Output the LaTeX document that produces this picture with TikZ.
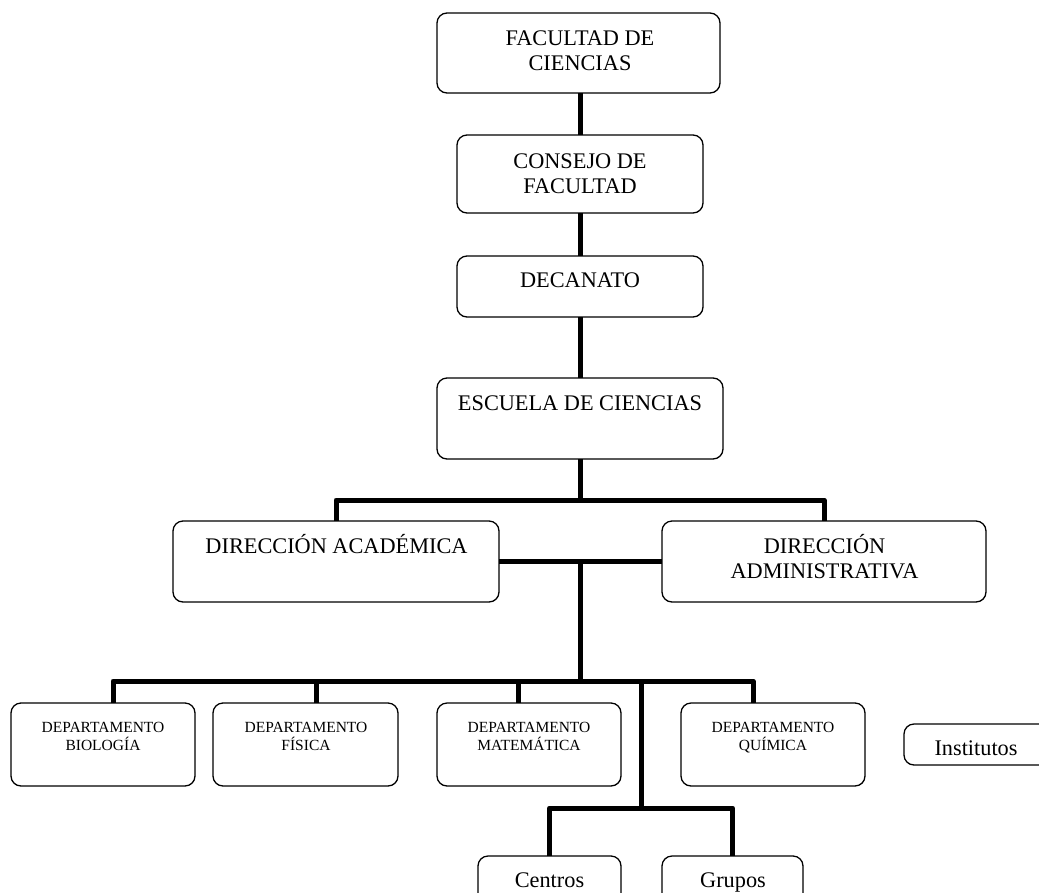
\documentclass[tikz,border=0pt]{standalone}
\usepackage{fontspec}
\setmainfont{Liberation Serif}
\tikzset{
  box/.style={draw, line width=1.3pt, rounded corners=10pt, inner sep=0pt, outer sep=0pt, anchor=north west, fill=white},
  big/.style={font=\fontsize{22.3}{25}\selectfont, align=center, anchor=base, inner sep=0pt},
  small/.style={font=\fontsize{15.5}{18}\selectfont, align=center, anchor=base, inner sep=0pt},
  conn/.style={line width=5pt, line join=round}
}
\begin{document}
\begin{tikzpicture}[x=1pt, y=-1pt]
\useasboundingbox (0,0) rectangle (1039,892);
% boxes
\node[box, minimum width=283pt, minimum height=80pt] (fac) at (437,13) {};
\node[box, minimum width=246pt, minimum height=78pt] (cons) at (457,135) {};
\node[box, minimum width=246pt, minimum height=61pt] (dec) at (457,256) {};
\node[box, minimum width=286pt, minimum height=81pt] (esc) at (437,378) {};
\node[box, minimum width=326pt, minimum height=81pt] (acad) at (173,521) {};
\node[box, minimum width=324pt, minimum height=81pt] (admin) at (662,521) {};
\node[box, minimum width=184pt, minimum height=83pt] (bio) at (11,703) {};
\node[box, minimum width=185pt, minimum height=83pt] (fis) at (213,703) {};
\node[box, minimum width=184pt, minimum height=83pt] (mat) at (437,703) {};
\node[box, minimum width=184pt, minimum height=83pt] (qui) at (681,703) {};
\node[box, minimum width=150pt, minimum height=41pt] (inst) at (904,724) {};
\node[box, minimum width=143pt, minimum height=60pt] (cen) at (478,856) {};
\node[box, minimum width=141pt, minimum height=60pt] (gru) at (662,856) {};
% texts (multi-line nodes: base = last line)
\node[big] (fac-t) at (580,70) {FACULTAD DE\\CIENCIAS};
\node[big] (cons-t) at (580,193) {CONSEJO DE\\FACULTAD};
\node[big] (dec-t) at (580,287) {DECANATO};
\node[big] (esc-t) at (580,410) {ESCUELA DE CIENCIAS};
\node[big] (acad-t) at (336.5,553) {DIRECCIÓN ACADÉMICA};
\node[big] (admin-t) at (824.5,578) {DIRECCIÓN\\ADMINISTRATIVA};
\node[small] (bio-t) at (103,750) {DEPARTAMENTO\\BIOLOGÍA};
\node[small] (fis-t) at (306,750) {DEPARTAMENTO\\FÍSICA};
\node[small] (mat-t) at (529,750) {DEPARTAMENTO\\MATEMÁTICA};
\node[small] (qui-t) at (773,750) {DEPARTAMENTO\\QUÍMICA};
\node[big] (inst-t) at (976,755) {Institutos};
\node[big] (cen-t) at (549.5,887) {Centros};
\node[big] (gru-t) at (733,887) {Grupos};
% connector coordinates
\coordinate (b1) at (580,500);
\coordinate (b3) at (580,681);
\coordinate (b4) at (641,681);
\coordinate (b5) at (641,808);
% connectors
\draw[conn] (fac.south -| b1) -- (cons.north -| b1);
\draw[conn] (cons.south -| b1) -- (dec.north -| b1);
\draw[conn] (dec.south -| b1) -- (esc.north -| b1);
\draw[conn] (esc.south -| b1) -- (b1);
\draw[conn] (acad.north) |- (b1) -| (admin.north);
\draw[conn] (acad.east) -- (admin.west);
\draw[conn] (acad.east -| b3) -- (b3);
\draw[conn] ([xshift=10pt]bio.north) |- (b3) -| ([xshift=-20pt]qui.north);
\draw[conn] ([xshift=10.5pt]fis.north) -- ([xshift=10.5pt]fis.north |- b3);
\draw[conn] ([xshift=-11pt]mat.north) -- ([xshift=-11pt]mat.north |- b3);
\draw[conn] (b4) -- (b5);
\draw[conn] (cen.north) |- (b5) -| (gru.north);
\end{tikzpicture}
\end{document}
